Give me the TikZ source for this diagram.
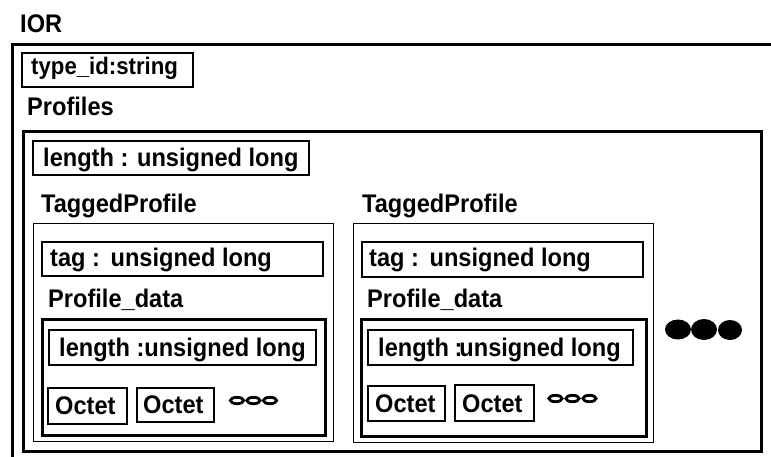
\documentclass[tikz,border=0pt]{standalone}
\usepackage{graphicx}
\usepackage{fontspec}
\setmainfont{Liberation Sans}
\newcommand\bt[1]{\scalebox{1}[1.08]{#1}}
\begin{document}
\begin{tikzpicture}[x=1pt,y=-1pt,
  txt/.style={anchor=base west,inner sep=0pt,font=\fontsize{23.6}{27}\selectfont\bfseries},
  fieldbox/.style={draw,line width=1.8pt,rectangle,inner sep=0pt},
  thickbox/.style={draw,line width=3pt,rectangle,inner sep=0pt},
  thinbox/.style={draw,line width=1.4pt,rectangle,inner sep=0pt},
  smalldot/.style={draw,line width=2.8pt,fill=white},
  bigdot/.style={fill=black}]
\useasboundingbox (0,0) rectangle (771,456);
% IOR
\node[txt] (iort) at (20,32) {\bt{IOR}};
\draw[line width=3pt] (12,458) -- (12,44) -- (773,44);
\node[fieldbox,anchor=north west,minimum width=171pt,minimum height=34pt] (tid) at (21,52) {};
\node[txt,font=\fontsize{22.2}{26}\selectfont\bfseries] (tidt) at (31,74) {\bt{type\_id:string}};
\node[txt] (proft) at (27,115) {\bt{Profiles}};
\node[thickbox,anchor=north west,minimum width=738pt,minimum height=320pt] (prof) at (22,130) {};
\node[fieldbox,anchor=north west,minimum width=276pt,minimum height=34pt] (plen) at (32,140) {};
\node[txt] (plent) at (43,166) {\bt{length : unsigned long}};
% TaggedProfile 1
\node[txt] (tp1t) at (41,212) {\bt{TaggedProfile}};
\node[thinbox,anchor=north west,minimum width=300pt,minimum height=218pt] (tp1) at (33,223) {};
\node[fieldbox,anchor=north west,minimum width=281pt,minimum height=34pt] (tag1) at (41,241) {};
\node[txt] (tag1t) at (50,266) {\bt{tag :\hspace{0.45em}unsigned long}};
\node[txt] (pd1t) at (48,307) {\bt{Profile\_data}};
\node[thickbox,anchor=north west,minimum width=283pt,minimum height=116pt] (pd1) at (41,318) {};
\node[fieldbox,anchor=north west,minimum width=267pt,minimum height=35pt] (len1) at (48,329) {};
\node[txt] (len1t) at (59,356) {\bt{length :unsigned long}};
\node[fieldbox,anchor=north west,minimum width=79pt,minimum height=36pt] (oa1) at (47,387) {};
\node[txt] (oa1t) at (55,414) {\bt{Octet}};
\node[fieldbox,anchor=north west,minimum width=77pt,minimum height=34pt] (ob1) at (136,387) {};
\node[txt] (ob1t) at (143,413) {\bt{Octet}};
\draw[smalldot] (237,400.5) ellipse [x radius=6.6pt,y radius=3.2pt];
\draw[smalldot] (253.5,400.5) ellipse [x radius=6.6pt,y radius=3.2pt];
\draw[smalldot] (270,400.5) ellipse [x radius=6.6pt,y radius=3.2pt];
% TaggedProfile 2
\node[txt] (tp2t) at (362,212) {\bt{TaggedProfile}};
\node[thinbox,anchor=north west,minimum width=300pt,minimum height=219pt] (tp2) at (353,223) {};
\node[fieldbox,anchor=north west,minimum width=281pt,minimum height=35pt] (tag2) at (361,241) {};
\node[txt] (tag2t) at (369,266) {\bt{tag :\hspace{0.45em}unsigned long}};
\node[txt] (pd2t) at (367,307) {\bt{Profile\_data}};
\node[thickbox,anchor=north west,minimum width=285pt,minimum height=117pt] (pd2) at (360,318) {};
\node[fieldbox,anchor=north west,minimum width=265pt,minimum height=35pt] (len2) at (367,329) {};
\node[txt] (len2t) at (378,356) {\bt{length\ \kern-1pt:\kern-3pt unsigned long}};
\node[fieldbox,anchor=north west,minimum width=77pt,minimum height=35pt] (oa2) at (367,385) {};
\node[txt] (oa2t) at (375,412) {\bt{Octet}};
\node[fieldbox,anchor=north west,minimum width=79pt,minimum height=36pt] (ob2) at (454,384) {};
\node[txt] (ob2t) at (462,412) {\bt{Octet}};
\draw[smalldot] (555.5,398.5) ellipse [x radius=6.6pt,y radius=3.2pt];
\draw[smalldot] (572.5,398.5) ellipse [x radius=6.6pt,y radius=3.2pt];
\draw[smalldot] (589.5,398.5) ellipse [x radius=6.6pt,y radius=3.2pt];
% big dots
\fill[bigdot] (678,329.5) ellipse [x radius=13pt,y radius=10pt];
\fill[bigdot] (704,329.5) ellipse [x radius=13pt,y radius=10.5pt];
\fill[bigdot] (730,330) ellipse [x radius=12pt,y radius=10pt];
\end{tikzpicture}
\end{document}
